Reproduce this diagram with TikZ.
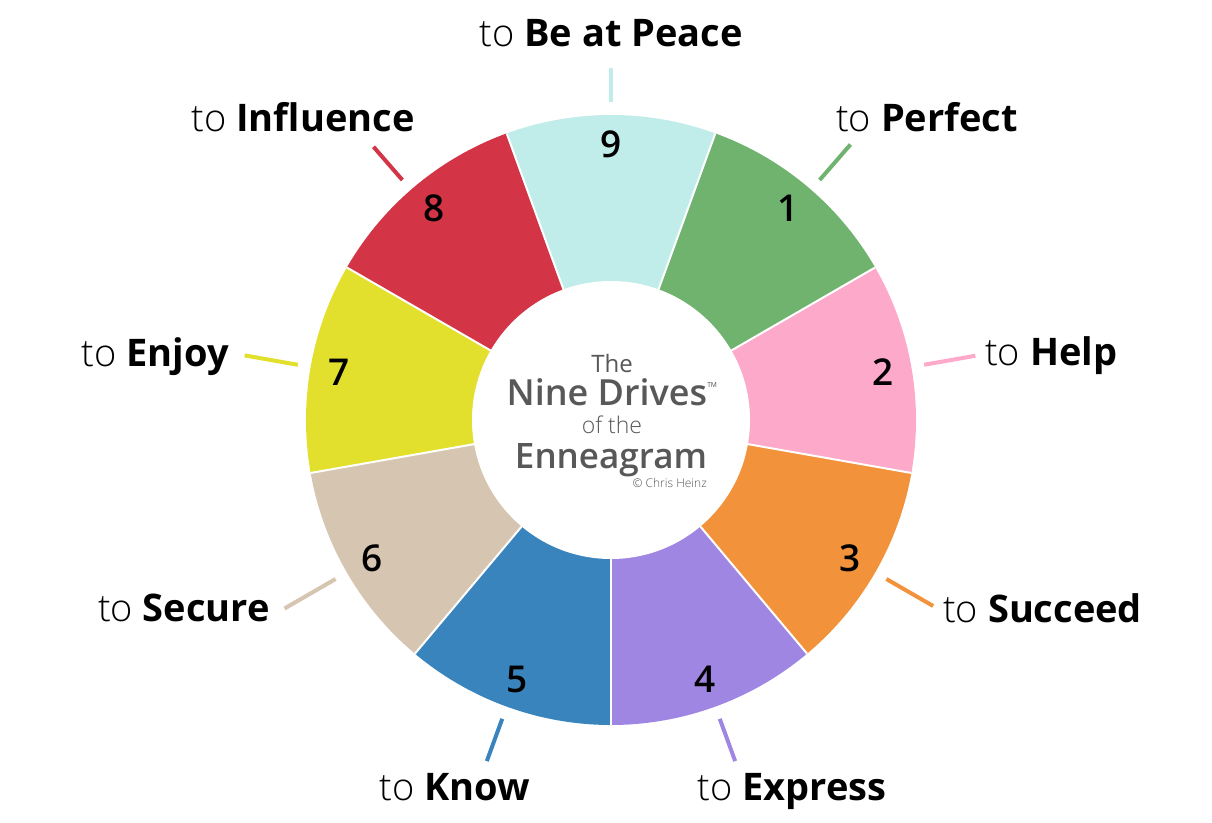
\documentclass[tikz,border=0pt]{standalone}
\usepackage{fontspec}
\setmainfont{Open Sans}
\IfFontExistsTF{Open Sans Light}{\newfontfamily\thinfont{Open Sans Light}}{\newfontfamily\thinfont{Open Sans}}
\IfFontExistsTF{Open Sans Semibold}{\newfontfamily\semifont{Open Sans Semibold}}{\IfFontExistsTF{Open Sans SemiBold}{\newfontfamily\semifont{Open Sans SemiBold}}{\def\semifont{\bfseries}}}

\definecolor{c9}{HTML}{C0ECE9}
\definecolor{c1}{HTML}{6FB36F}
\definecolor{c2}{HTML}{FCA9CA}
\definecolor{c3}{HTML}{F2923B}
\definecolor{c4}{HTML}{A086E3}
\definecolor{c5}{HTML}{3A84BE}
\definecolor{c6}{HTML}{D6C5B1}
\definecolor{c7}{HTML}{E2E02D}
\definecolor{c8}{HTML}{D33446}
\definecolor{hubgray}{HTML}{585858}

\begin{document}
\begin{tikzpicture}[
        x = 1pt, y = 1pt,
        segnum/.style = {font=\semifont\fontsize{37}{37}\selectfont, inner sep=0pt},
        drive/.style = {font=\fontsize{38}{38}\selectfont, inner sep=0pt},
        tickline/.style = {line width=4pt},
        sep/.style = {white, line width=2pt},
        hubtext/.style = {text=hubgray, inner sep=0pt, anchor=base}
    ]
    \useasboundingbox (-611,-402) rectangle (601,420);

    \foreach \n/\a/\ta/\col/\word/\r/\anc/\lx/\ly in {
        9/90/90/c9/Be at Peace/352/base/0/373,
        1/50/49/c1/Perfect/365/base/316/288,
        2/10/10/c2/Help/370/base west/374/55,
        3/-30/-30/c3/Succeed/372/base west/332/-202,
        4/-70/-70/c4/Express/363/base/181/-380,
        5/-110/-110/c5/Know/363/base/-156/-380,
        6/-150/-150/c6/Secure/377/base east/-341/-201,
        7/170/170/c7/Enjoy/372/base east/-382/54,
        8/130/131/c8/Influence/362/base/-308/288}{
        \fill[\col] (0,0) -- (\a-20:305) arc[start angle=\a-20, end angle=\a+20, radius=305] -- cycle;
        \coordinate (t\n) at (\ta:318);
        \coordinate (e\n) at (\ta:\r);
        \draw[tickline, \col] (t\n) -- (e\n);
        \node[drive, anchor=\anc] (l\n) at (\lx,\ly) {{\thinfont to} \textbf{\word}};
        \node[segnum] (d\n) at (\a:276) {\n};
    }
    \foreach \a in {110, 70, 30, -10, -50, -90, -130, -170, 150}
        \draw[sep] (0,0) -- (\a:305);

    \node[circle, fill=white, minimum size=278pt, inner sep=0pt] (hub) at (0,0) {};

    \node[hubtext, font=\fontsize{24}{24}\selectfont] (the) at (1,48) {The};
    \node[hubtext, font=\semifont\fontsize{36}{36}\selectfont] (drives) at (1,15) {Nine Drives\raisebox{13pt}{\fontsize{14}{14}\selectfont\thinfont ™}};
    \node[hubtext, font=\thinfont\fontsize{23}{23}\selectfont] (ofthe) at (1,-13) {of the};
    \node[hubtext, font=\semifont\fontsize{35}{35}\selectfont] (enn) at (0,-48) {Enneagram};
    \node[hubtext, anchor=base east, font=\thinfont\fontsize{12}{12}\selectfont] (copy) at (96,-67) {© Chris Heinz};
\end{tikzpicture}
\end{document}
